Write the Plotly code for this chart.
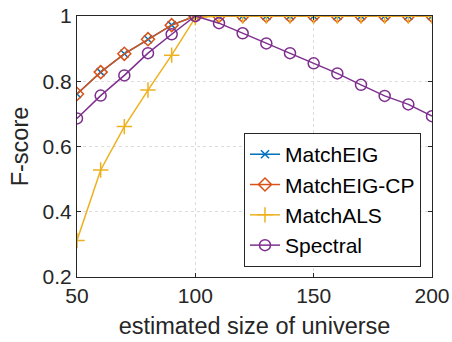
import plotly.graph_objects as go

universe_size = [50, 60, 70, 80, 90, 100, 110, 120, 130, 140, 150, 160, 170, 180, 190, 200]
f_match_eig = [0.761, 0.828, 0.884, 0.929, 0.972, 1.0, 1.0, 1.0, 1.0, 1.0, 1.0, 1.0, 1.0, 1.0, 1.0, 1.0]
f_match_eig_cp = [0.761, 0.828, 0.884, 0.929, 0.972, 1.0, 1.0, 1.0, 1.0, 1.0, 1.0, 1.0, 1.0, 1.0, 1.0, 1.0]
f_match_als = [0.312, 0.528, 0.661, 0.773, 0.880, 0.995, 1.0, 1.0, 1.0, 1.0, 1.0, 1.0, 1.0, 1.0, 1.0, 1.0]
f_spectral = [0.686, 0.756, 0.818, 0.886, 0.944, 1.0, 0.978, 0.947, 0.916, 0.886, 0.855, 0.824, 0.789, 0.755, 0.729, 0.693]

x_ticks = [50, 100, 150, 200]
y_ticks = [0.2, 0.4, 0.6, 0.8, 1.0]
y_tick_text = ["0.2", "0.4", "0.6", "0.8", "1"]

series = [
    ("MatchEIG", f_match_eig, "#0072BD", dict(symbol="x-thin", size=8, line=dict(width=1.5, color="#0072BD"))),
    ("MatchEIG-CP", f_match_eig_cp, "#D95319", dict(symbol="diamond-open", size=10, line=dict(width=1.5))),
    ("MatchALS", f_match_als, "#EDB120", dict(symbol="cross-thin", size=11, line=dict(width=1.5, color="#EDB120"))),
    ("Spectral", f_spectral, "#7E2F8E", dict(symbol="circle-open", size=11, line=dict(width=1.5))),
]

fig = go.Figure()
for name, vals, color, marker in series:
    fig.add_trace(go.Scatter(
        x=universe_size, y=vals, name=name, mode="lines+markers",
        line=dict(color=color, width=1.5),
        marker=dict(color=color, **marker),
    ))

axis_common = dict(
    showline=True, linecolor="#262626", linewidth=1, mirror="ticks",
    ticks="inside", ticklen=4, tickcolor="#262626",
    showgrid=True, gridcolor="#DCDCDC", griddash="dot", gridwidth=1,
    zeroline=False, automargin=False,
    tickfont=dict(size=21, color="#262626"),
)

fig.update_layout(
    width=452, height=342,
    margin=dict(l=77, r=20, t=16, b=65),
    paper_bgcolor="white", plot_bgcolor="white",
    font=dict(family="Liberation Sans, Arial, sans-serif", color="#262626"),
    xaxis=dict(range=[50, 200], tickvals=x_ticks,
               title=dict(text="estimated size of universe", font=dict(size=23.5), standoff=11),
               **axis_common),
    yaxis=dict(range=[0.2, 1.0], tickvals=y_ticks, ticktext=y_tick_text,
               title=dict(text="F-score", font=dict(size=23.5), standoff=7),
               **axis_common),
    legend=dict(x=0.969, y=0.038, xanchor="right", yanchor="bottom",
                bgcolor="white", bordercolor="#262626", borderwidth=1,
                font=dict(size=21, color="#000000"), tracegroupgap=0,
                itemwidth=30),
    showlegend=True,
)

fig.write_html("out.html")
